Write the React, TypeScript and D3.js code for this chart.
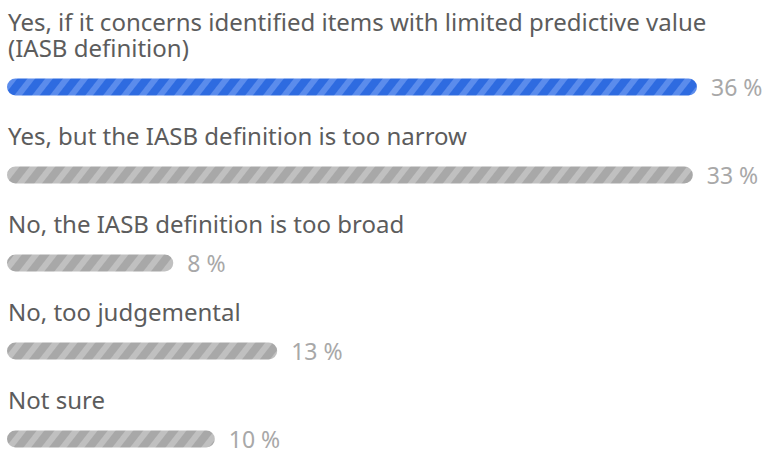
import React from 'react'
import * as d3 from 'd3'

const labels = [
  ['Yes, if it concerns identified items with limited predictive value', '(IASB definition)'],
  ['Yes, but the IASB definition is too narrow'],
  ['No, the IASB definition is too broad'],
  ['No, too judgemental'],
  ['Not sure'],
]
const values = [36, 33, 8, 13, 10]
const highlighted = [true, false, false, false, false]

const width = 768
const height = 453
const left = 7
const barH = 17
const rowGap = 88
const firstBar = 87
const lineH = 26

export default function App() {
  // bars sized to the shared width, the longest one capped to leave room for its label
  const x = d3.scaleLinear().domain([0, 33.2]).range([0, 690]).clamp(true)
  const font = '"Noto Sans", sans-serif'

  return (
    <svg width={width} height={height} style={{ position: 'absolute', left: 0, top: 0, background: '#fff' }}>
      <defs>
        <pattern id="stripeBlue" width="14" height="14" patternUnits="userSpaceOnUse" patternTransform="rotate(38)">
          <rect width="14" height="14" fill="#2e6be0" />
          <rect width="6" height="14" fill="#5b8cec" />
        </pattern>
        <pattern id="stripeGray" width="14" height="14" patternUnits="userSpaceOnUse" patternTransform="rotate(38)">
          <rect width="14" height="14" fill="#a8a8a8" />
          <rect width="6" height="14" fill="#c0c0c0" />
        </pattern>
      </defs>
      {values.map((v, i) => {
        const cy = firstBar + i * rowGap
        const w = x(v)
        const lines = labels[i]
        // multi-line labels grow upward from the bar
        const firstY = cy - 30 - (lines.length - 1) * lineH
        return (
          <g key={i}>
            <text x={8} y={firstY} fontFamily={font} fontSize={24} fill="#5c5c5c">
              {lines.map((t, j) => (
                <tspan key={j} x={8} dy={j === 0 ? 0 : lineH}>
                  {t}
                </tspan>
              ))}
            </text>
            <rect
              x={left}
              y={cy - barH / 2}
              width={w}
              height={barH}
              rx={barH / 2}
              fill={highlighted[i] ? 'url(#stripeBlue)' : 'url(#stripeGray)'}
            />
            <text x={left + w + 14} y={cy + 8.5} fontFamily={font} fontSize={23} fill="#a8a8a8">
              {v} %
            </text>
          </g>
        )
      })}
    </svg>
  )
}
